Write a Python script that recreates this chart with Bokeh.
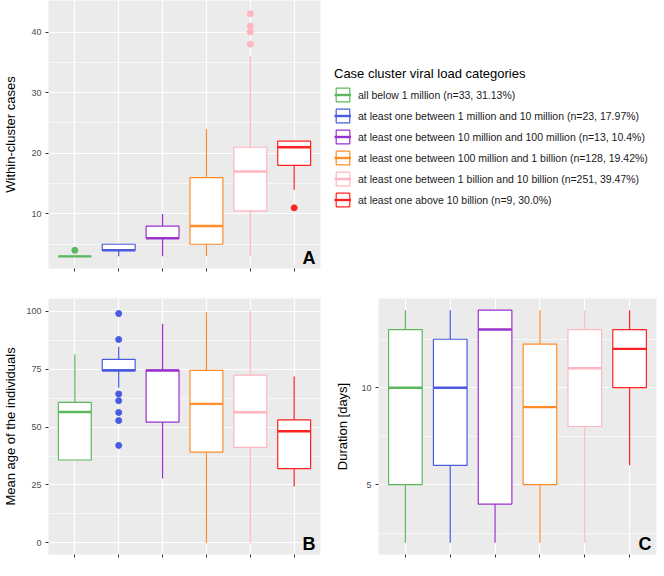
from bokeh.plotting import figure
from bokeh.models import ColumnDataSource, Range1d, FixedTicker, Legend, LegendItem, Label
from bokeh.layouts import column, row
from bokeh.embed import file_html
from bokeh.resources import INLINE
from bokeh.transform import dodge

# ---------------- data ----------------
categories = [
    "all below 1 million (n=33, 31.13%)",
    "at least one between 1 million and 10 million (n=23, 17.97%)",
    "at least one between 10 million and 100 million (n=13, 10.4%)",
    "at least one between 100 million and 1 billion (n=128, 19.42%)",
    "at least one between 1 billion and 10 billion (n=251, 39.47%)",
    "at least one above 10 billion (n=9, 30.0%)",
]
colors = ["#5DB85D", "#4A5BE0", "#9932CC", "#FF8C26", "#FFB6C1", "#FF2222"]
xs = [i + 1 for i in range(len(categories))]

# Panel A: within-cluster cases
cases_lo = [3, 3, 3, 3, 3, 14]
cases_q1 = [3, 4, 6, 5, 10.5, 18]
cases_med = [3, 4, 6, 8, 17, 21]
cases_q3 = [3, 5, 8, 16, 21, 22]
cases_hi = [3, 5, 10, 24, 36, 22]
cases_out_x = [1, 5, 5, 5, 5, 6]
cases_out_y = [4, 38, 40, 41, 43, 11]

# Panel B: mean age of the individuals
age_lo = [35.8, 67.0, 27.8, 0, 0, 24.4]
age_q1 = [35.8, 74.3, 52.1, 39.2, 41.2, 32.1]
age_med = [56.5, 74.5, 74.4, 60.0, 56.4, 48.2]
age_q3 = [60.7, 79.2, 74.6, 74.5, 72.4, 53.1]
age_hi = [81.4, 84.7, 94.6, 99.6, 100.4, 71.8]
age_out_x = [2, 2, 2, 2, 2, 2, 2]
age_out_y = [99.0, 87.8, 64.3, 61.4, 56.3, 52.8, 42.1]

# Panel C: duration [days]
dur_lo = [2, 2, 2, 2, 2, 6]
dur_q1 = [5, 6, 4, 5, 8, 10]
dur_med = [10, 10, 13, 9, 11, 12]
dur_q3 = [13, 12.5, 14, 12.25, 13, 13]
dur_hi = [14, 14, 14, 14, 14, 14]
dur_out_x = []
dur_out_y = []

FONT = "Liberation Sans"
BOX_W = 0.75


def make_panel(ylabel, lo, q1, med, q3, hi, out_x, out_y, yr, ticks, minor,
               letter, frame_w, frame_h, left, right, top, bottom, label_standoff):
    p = figure(output_backend="svg", toolbar_location=None,
               frame_width=frame_w, frame_height=frame_h,
               x_range=Range1d(0.4, 6.6), y_range=Range1d(*yr),
               min_border_left=left, min_border_right=right,
               min_border_top=top, min_border_bottom=bottom)
    p.background_fill_color = "#EBEBEB"
    p.border_fill_color = "white"
    p.outline_line_color = None

    src = ColumnDataSource(dict(x=xs, lo=lo, q1=q1, med=med, q3=q3, hi=hi,
                                color=colors, label=categories))
    p.segment(x0="x", y0="lo", x1="x", y1="hi", source=src,
              line_color="color", line_width=1.2)
    box = p.vbar(x="x", width=BOX_W, bottom="q1", top="q3", source=src,
                 fill_color="white", line_color="color", line_width=1.2)
    medr = p.segment(x0=dodge("x", -BOX_W / 2), y0="med",
                     x1=dodge("x", BOX_W / 2), y1="med", source=src,
                     line_color="color", line_width=2.4)
    if out_x:
        osrc = ColumnDataSource(dict(x=out_x, y=out_y,
                                     color=[colors[i - 1] for i in out_x]))
        p.scatter(x="x", y="y", source=osrc, size=6, fill_color="color",
                  line_color="color")

    # axes
    p.xaxis.ticker = FixedTicker(ticks=xs)
    p.xaxis.major_label_text_font_size = "0px"
    p.xaxis.major_label_text_color = None
    p.xaxis.major_label_standoff = 0
    p.yaxis.ticker = FixedTicker(ticks=ticks, minor_ticks=minor)
    for ax in (p.xaxis[0], p.yaxis[0]):
        ax.axis_line_color = None
        ax.major_tick_in = 0
        ax.major_tick_out = 3
        ax.major_tick_line_color = "#333333"
        ax.minor_tick_line_color = None
    p.yaxis.major_label_text_font = FONT
    p.yaxis.major_label_text_font_size = "9px"
    p.yaxis.major_label_text_color = "#4D4D4D"
    p.yaxis.major_label_standoff = 3
    p.yaxis.axis_label = ylabel
    p.yaxis.axis_label_text_font = FONT
    p.yaxis.axis_label_text_font_size = "13px"
    p.yaxis.axis_label_text_font_style = "normal"
    p.yaxis.axis_label_text_color = "black"
    p.yaxis.axis_label_standoff = label_standoff

    # grids
    p.xgrid.grid_line_color = "white"
    p.xgrid.grid_line_width = 1.2
    p.ygrid.grid_line_color = "white"
    p.ygrid.grid_line_width = 1.2
    p.ygrid.minor_grid_line_color = "white"
    p.ygrid.minor_grid_line_width = 0.6

    p.add_layout(Label(x=frame_w - 5, y=1, x_units="screen", y_units="screen",
                       text=letter, text_align="right", text_baseline="bottom",
                       text_font=FONT, text_font_style="bold",
                       text_font_size="18px", text_color="black"))
    return p, box, medr


pA, boxA, medA = make_panel("Within-cluster cases", cases_lo, cases_q1, cases_med,
                            cases_q3, cases_hi, cases_out_x, cases_out_y,
                            (1, 45.2), [10, 20, 30, 40], [5, 15, 25, 35],
                            "A", 272, 268, 40, 334, 0, 8, 10)

items = [LegendItem(label=categories[i], renderers=[boxA, medA], index=i)
         for i in range(len(categories))]
legend = Legend(items=items, location=(14, 60),
                title="Case cluster viral load categories",
                title_text_font=FONT, title_text_font_size="13px",
                title_text_font_style="normal", title_text_color="black",
                title_standoff=5,
                label_text_font=FONT, label_text_font_size="10.5px",
                label_text_color="#1A1A1A",
                glyph_width=17, glyph_height=17, label_standoff=7,
                spacing=4, padding=0, margin=0,
                border_line_color=None, background_fill_alpha=0)
pA.add_layout(legend, "right")

pB, _, _ = make_panel("Mean age of the individuals", age_lo, age_q1, age_med,
                      age_q3, age_hi, age_out_x, age_out_y,
                      (-5, 105.5), [0, 25, 50, 75, 100], [12.5, 37.5, 62.5, 87.5],
                      "B", 272, 256, 40, 12, 22, 6, 5)

pC, _, _ = make_panel("Duration [days]", dur_lo, dur_q1, dur_med, dur_q3, dur_hi,
                      dur_out_x, dur_out_y,
                      (1.4, 14.6), [5, 10], [2.5, 7.5, 12.5],
                      "C", 278, 256, 40, 4, 22, 6, 8)

layout = column(row(pA), row(pB, pC))

open("out.html", "w").write(file_html(layout, INLINE))
